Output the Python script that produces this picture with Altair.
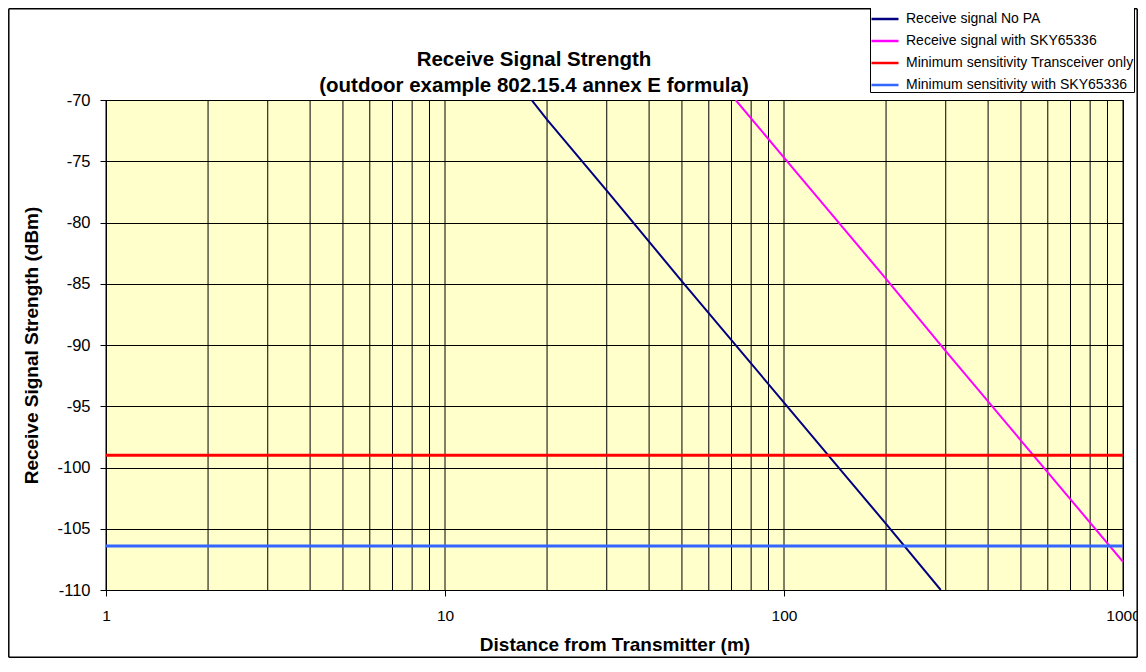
import altair as alt
import pandas as pd

series_names = [
    "Receive signal No PA",
    "Receive signal with SKY65336",
    "Minimum sensitivity Transceiver only",
    "Minimum sensitivity with SKY65336",
]
series_colors = ["#000080", "#FF00FF", "#FF0000", "#3366FF"]
series_widths = [2, 2, 3, 3]

# Receive signal No PA
nopa_d = [18, 20, 30, 50, 100, 150, 200, 290]
nopa_v = [-70.0, -71.6, -77.4, -84.8, -94.7, -100.5, -104.6, -110.0]
# Receive signal with SKY65336
sky_d = [72, 100, 200, 300, 500, 700, 1000]
sky_v = [-70.0, -74.7, -84.6, -90.5, -97.8, -102.6, -107.7]
# Minimum sensitivities
min_d = [1, 1000]
min_trx = [-99.0, -99.0]
min_sky = [-106.4, -106.4]

x_ticks = [1, 10, 100, 1000]
y_ticks = [-110, -105, -100, -95, -90, -85, -80, -75, -70]
grid_x = [m * 10 ** e for e in range(3) for m in range(1, 10)] + [1000]

title_lines = ["Receive Signal Strength", "(outdoor example 802.15.4 annex E formula)"]

series_data = [
    (nopa_d, nopa_v),
    (sky_d, sky_v),
    (min_d, min_trx),
    (min_d, min_sky),
]

W, H = 1017, 490
PAD_L, PAD_T, PAD_R, PAD_B = 98, 92, 15, 68
FONT = "Liberation Sans"

xscale = alt.Scale(type="log", domain=[1, 1000], nice=False)
yscale = alt.Scale(domain=[-110, -70], nice=False)

x_axis = alt.Axis(
    values=x_ticks, format="d", grid=False, title="Distance from Transmitter (m)",
    labelFontSize=15.5, titleFontSize=19, titleFontWeight="bold",
    tickSize=6, tickColor="black", domainColor="black", labelColor="black",
    titleColor="black", labelPadding=12, titlePadding=12, labelFont=FONT,
    titleFont=FONT, labelFlush=False,
)
y_axis = alt.Axis(
    values=y_ticks, grid=True, gridColor="black", gridOpacity=1, gridWidth=1,
    title="Receive Signal Strength (dBm)", labelFontSize=16.5, titleFontSize=19,
    titleFontWeight="bold", tickSize=6, tickColor="black", domainColor="black",
    labelColor="black", titleColor="black", labelPadding=10, titlePadding=15,
    labelFont=FONT, titleFont=FONT, labelExpr="toString(datum.value)",
)

grid_df = pd.DataFrame({"g": grid_x, "v": [-110] * len(grid_x)})
grid = alt.Chart(grid_df).mark_rule(color="#000000", strokeWidth=1).encode(
    x=alt.X("g:Q", scale=xscale, axis=x_axis),
    y=alt.Y("v:Q", scale=yscale, axis=y_axis),
    y2=alt.datum(-70),
)

color_scale = alt.Scale(domain=series_names, range=series_colors)
legend = alt.Legend(
    title=None, orient="none", legendX=764, legendY=-96,
    symbolType="stroke", symbolSize=729, symbolStrokeWidth=2.5,
    labelFontSize=14, labelFont=FONT, labelColor="black",
    strokeColor="black", fillColor="white", padding=0,
    rowPadding=-5, labelLimit=400, symbolOffset=0, labelOffset=6,
    cornerRadius=0,
)

line_layers = []
for name, (ds, vs), w in zip(series_names, series_data, series_widths):
    sdf = pd.DataFrame({"d": ds, "v": vs, "series": [name] * len(ds)})
    line_layers.append(
        alt.Chart(sdf).mark_line(clip=True, strokeWidth=w).encode(
            x=alt.X("d:Q", scale=xscale),
            y=alt.Y("v:Q", scale=yscale),
            color=alt.Color("series:N", scale=color_scale, sort=series_names, legend=legend),
        )
    )

one = pd.DataFrame({"a": [0]})
title_layers = []
for txt, yy in zip(title_lines, [-40, -14]):
    title_layers.append(
        alt.Chart(one).mark_text(
            font=FONT, fontSize=20.5, fontWeight="bold", color="black", align="center",
            baseline="middle", text=txt,
        ).encode(x=alt.value(428), y=alt.value(yy))
    )

# outer chart frame (inside the svg area)
L = -PAD_L + 0.8
R = W + PAD_R - 0.8
T = -PAD_T + 0.8
B = H + PAD_B - 0.8
frame = [
    alt.Chart(one).mark_rule(color="black", strokeWidth=1.5).encode(
        x=alt.value(L), x2=alt.value(R), y=alt.value(T)),
    alt.Chart(one).mark_rule(color="black", strokeWidth=1.5).encode(
        x=alt.value(L), x2=alt.value(R), y=alt.value(B)),
    alt.Chart(one).mark_rule(color="black", strokeWidth=1.5).encode(
        x=alt.value(L), y=alt.value(T), y2=alt.value(B)),
    alt.Chart(one).mark_rule(color="black", strokeWidth=1.5).encode(
        x=alt.value(R), y=alt.value(T), y2=alt.value(B)),
]

chart = alt.layer(*frame, grid, *line_layers, *title_layers).properties(
    width=W,
    height=H,
    autosize=alt.AutoSizeParams(type="none"),
    padding={"left": PAD_L, "top": PAD_T, "right": PAD_R, "bottom": PAD_B},
    background="white",
).configure_view(
    fill="#FFFFCC", stroke="black", strokeWidth=1
)

chart.save("out.html", embed_options={"renderer": "svg", "actions": False})
